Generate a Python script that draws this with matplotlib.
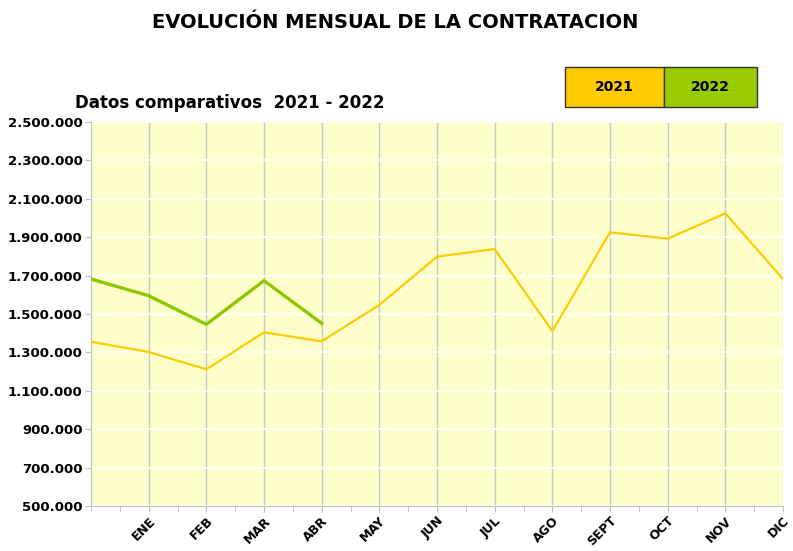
import numpy as np
import matplotlib
matplotlib.use("Agg")
import matplotlib.pyplot as plt
from matplotlib.patches import Rectangle
from matplotlib.ticker import FuncFormatter, MultipleLocator

# first point (unlabelled) is previous December
months = ["", "ENE", "FEB", "MAR", "ABR", "MAY", "JUN", "JUL", "AGO",
          "SEPT", "OCT", "NOV", "DIC"]
v2021 = [1355700, 1302000, 1212000, 1404600, 1357700, 1547000, 1798600,
         1838500, 1411000, 1925300, 1892400, 2024300, 1682300]
v2022 = [1682000, 1595300, 1446000, 1673600, 1451400]
yticks = np.arange(500000, 2500001, 200000)

plt.rcParams['font.family'] = ['DejaVu Sans']

fig = plt.figure(figsize=(7.93, 5.51), dpi=100)
ax = fig.add_axes([91/793, 1-506/551, (783-91)/793, (506-122)/551])
ax.set_facecolor("#FFFFCC")

x = np.arange(len(months))
ax.plot(x, v2021, color="#FFCC00", lw=1.6, zorder=3)
ax.plot(x[:len(v2022)], v2022, color="#8CC800", lw=2.4, zorder=3)

ax.set_xlim(0, 12)
ax.set_ylim(500000, 2500000)
ax.set_yticks(yticks)
ax.yaxis.set_major_formatter(FuncFormatter(lambda v, p: f"{int(v):,}".replace(",", ".")))
ax.set_xticks(x[1:])
ax.set_xticklabels(months[1:], rotation=45, ha="right", va="top",
                   rotation_mode="anchor", fontsize=9, fontweight="bold")
ax.xaxis.set_minor_locator(MultipleLocator(0.5))
for lab in ax.get_yticklabels():
    lab.set_fontweight("bold")
    lab.set_fontsize(9.5)

ax.grid(axis="y", color="white", lw=1.2, zorder=1)
ax.grid(axis="x", color="#C8C8C8", lw=1.0, zorder=2)
for s in ["top", "right"]:
    ax.spines[s].set_visible(False)
for s in ["left", "bottom"]:
    ax.spines[s].set_color("#C0C0C0")
ax.tick_params(axis="both", which="both", color="#C0C0C0", length=4, pad=2)
ax.tick_params(axis="x", which="minor", length=4)

fig.text(395/793, 1-22/551, "EVOLUCIÓN MENSUAL DE LA CONTRATACION",
         ha="center", va="center", fontsize=14, fontweight="bold")
fig.text(75/793, 1-103/551, "Datos comparativos  2021 - 2022",
         ha="left", va="center", fontsize=12, fontweight="bold")

# legend boxes
boxes = [("2021", "#FFCC00", 565, 664), ("2022", "#99CC00", 664, 757)]
for lab, col, x0, x1 in boxes:
    r = Rectangle((x0/793, 1-107/551), (x1-x0)/793, 40/551,
                  transform=fig.transFigure, facecolor=col,
                  edgecolor="#333333", lw=1.0)
    fig.patches.append(r)
    fig.text((x0+x1)/2/793, 1-87/551, lab, ha="center", va="center",
             fontsize=10, fontweight="bold")

fig.savefig("out.png", dpi=100)
